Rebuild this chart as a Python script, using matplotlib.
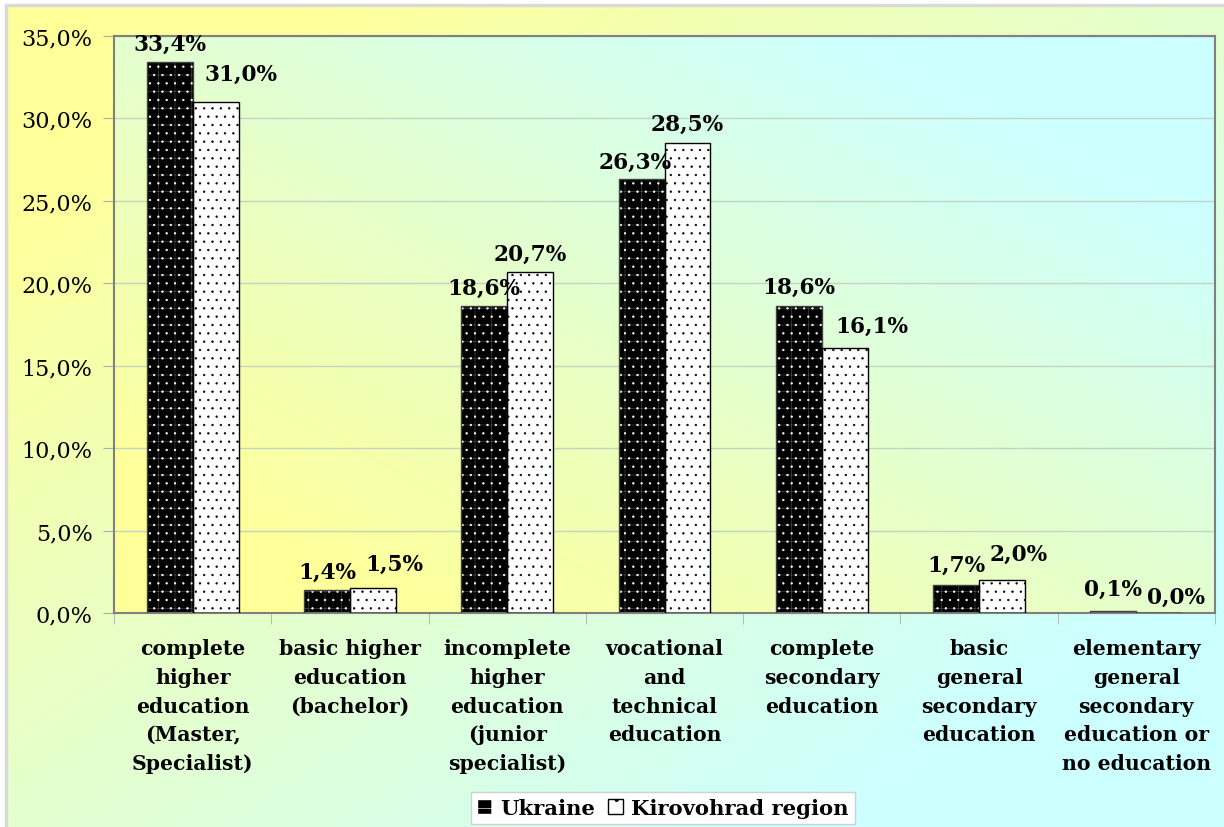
import numpy as np
import matplotlib
matplotlib.use("Agg")
import matplotlib.pyplot as plt
from matplotlib.patches import Patch, Rectangle
from matplotlib.ticker import FuncFormatter, MultipleLocator, FixedLocator

categories = [
    "complete\nhigher\neducation\n(Master,\nSpecialist)",
    "basic higher\neducation\n(bachelor)",
    "incomplete\nhigher\neducation\n(junior\nspecialist)",
    "vocational\nand\ntechnical\neducation",
    "complete\nsecondary\neducation",
    "basic\ngeneral\nsecondary\neducation",
    "elementary\ngeneral\nsecondary\neducation or\nno education",
]
ukraine = [33.4, 1.4, 18.6, 26.3, 18.6, 1.7, 0.1]
kirovohrad = [31.0, 1.5, 20.7, 28.5, 16.1, 2.0, 0.0]
series_names = ["Ukraine", "Kirovohrad region"]

# label nudges in pixels (dx, dy) relative to the default spot above each bar
ukr_nudge = [(0, 0), (0, -1), (0, 0), (-6, -1), (0, 1), (0, 1), (0, 4)]
kir_nudge = [(25, 9), (21, 5), (0, -1), (0, 0), (27, 3), (17, 7), (17, -3)]

W, H, DPI = 1224, 828, 100
plt.rcParams['font.family'] = ['DejaVu Serif']
plt.rcParams['hatch.linewidth'] = 0.45

YELLOW = np.array([255, 255, 153]) / 255.0
CYAN = np.array([204, 255, 255]) / 255.0


def gradient(nx, ny, flip):
    u = np.linspace(0, 1, nx)[None, :]
    v = np.linspace(0, 1, ny)[:, None]
    if flip:
        s = (u + (1 - v)) / 2.0
    else:
        s = (u + v) / 2.0
    t = np.clip((s - 0.12) / 0.72, 0, 1)
    return YELLOW[None, None, :] * (1 - t[..., None]) + CYAN[None, None, :] * t[..., None]


fig = plt.figure(figsize=(W / DPI, H / DPI), dpi=DPI)
fig.patch.set_facecolor("white")

# chart area background
bg = fig.add_axes([6 / W, 0, 1 - 6 / W, 1 - 6 / H], zorder=-10)
bg.imshow(gradient(300, 200, False), aspect="auto", extent=[0, 1, 0, 1], origin="upper")
bg.set_xlim(0, 1)
bg.set_ylim(0, 1)
bg.axis("off")
fig.add_artist(Rectangle((6 / W, -0.01), 1, 1 - 6 / H + 0.01, transform=fig.transFigure,
                         fill=False, edgecolor="#D9D9D9", linewidth=2.5, zorder=-5))

ax = fig.add_axes([114 / W, 1 - 614 / H, (1215 - 114) / W, (614 - 37) / H])
ax.patch.set_visible(False)
ax.imshow(gradient(300, 200, True), aspect="auto", extent=[0, 1, 0, 1],
          transform=ax.transAxes, origin="upper", zorder=0)

x = np.arange(len(categories))
w = 0.292

# Ukraine: black with grey grid and white dots
ax.bar(x - w / 2, ukraine, w, facecolor="black", edgecolor="#4a4a4a", hatch="+", linewidth=0, zorder=2)
ax.bar(x - w / 2, ukraine, w, fill=False, edgecolor="white", hatch="..", linewidth=0, zorder=3)
ax.bar(x - w / 2, ukraine, w, fill=False, edgecolor="#404040", linewidth=1.0, zorder=4)
# Kirovohrad: white with black dots
ax.bar(x + w / 2, kirovohrad, w, facecolor="white", edgecolor="black", hatch="..", linewidth=0, zorder=2)
ax.bar(x + w / 2, kirovohrad, w, fill=False, edgecolor="black", linewidth=1.0, zorder=4)

ax.set_xlim(-0.5, len(categories) - 0.5)
ax.set_ylim(0, 35)

fmt = lambda v: f"{v:.1f}%".replace(".", ",")
for i in range(len(categories)):
    for vals, nudge, off in ((ukraine, ukr_nudge, -w / 2), (kirovohrad, kir_nudge, w / 2)):
        dx, dy = nudge[i]
        ax.annotate(fmt(vals[i]), (x[i] + off, vals[i]), xytext=(dx, 19 + dy),
                    textcoords="offset pixels", ha="center", va="center",
                    fontsize=15.6, fontweight="bold", zorder=6, annotation_clip=False)

ax.yaxis.set_major_locator(MultipleLocator(5))
ax.yaxis.set_major_formatter(FuncFormatter(lambda v, p: fmt(v)))
ax.grid(axis="y", color="#c4d4c4", linewidth=1.0, zorder=1)
ax.set_axisbelow(True)

ax.set_xticks(x)
ax.set_xticklabels(categories, fontsize=14.7, fontweight="bold", linespacing=1.55)
ax.xaxis.set_minor_locator(FixedLocator(np.arange(-0.5, len(categories), 1.0)))
ax.tick_params(axis="x", which="major", length=0, pad=18)
ax.tick_params(axis="x", which="minor", length=8, color="#a8b0a8", direction="out")
ax.tick_params(axis="y", length=8, color="#a8b0a8", direction="out", labelsize=16, pad=7.5)
for s in ax.spines.values():
    s.set_color("#808080")
    s.set_linewidth(1.5)

handles = [
    Patch(facecolor="black", edgecolor="white", hatch="+", label=series_names[0]),
    Patch(facecolor="white", edgecolor="black", hatch=".", label=series_names[1]),
]
leg = fig.legend(handles=handles, loc="center", bbox_to_anchor=(663 / W, 1 - 809 / H), ncol=2,
                 frameon=True, fancybox=False, framealpha=1, edgecolor="#d0d0d0",
                 prop={"weight": "bold", "size": 15.2}, handlelength=0.7, handleheight=0.7,
                 handletextpad=0.4, columnspacing=0.6, borderpad=0.3)
leg.get_frame().set_linewidth(1.0)

fig.savefig("out.png", dpi=DPI)
